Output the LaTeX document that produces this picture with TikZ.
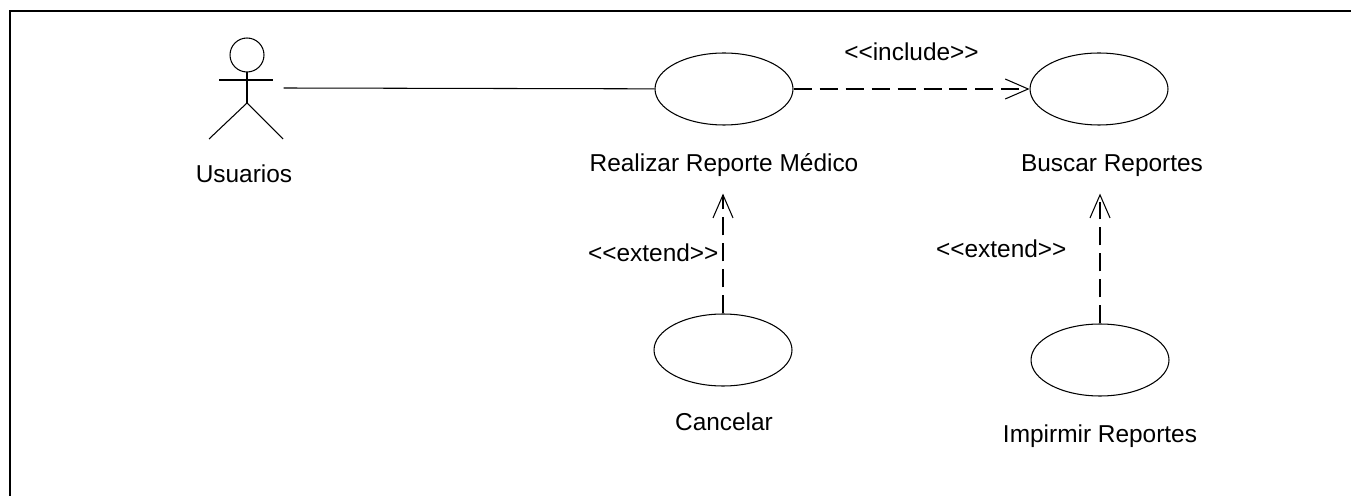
\documentclass[tikz,border=0pt]{standalone}
\usepackage{fontspec}
\setmainfont{Liberation Sans}[Ligatures=TeXOff]
\usetikzlibrary{arrows.meta, positioning, shapes.geometric}

\begin{document}
\begin{tikzpicture}[x=0.02cm, y=-0.02cm, line width=0.6pt,
    usecase/.style={ellipse, draw, minimum width=2.76cm, minimum height=1.44cm, inner sep=0pt},
    lbl/.style={inner sep=0pt, anchor=base, font=\fontsize{13.9}{16}\selectfont},
    stereo/.style={inner sep=0pt, font=\fontsize{13.9}{16}\selectfont},
    dep/.style={dash pattern=on 0.36cm off 0.16cm, -{Straight Barb[length=0.46cm, width=0.4cm]}}]
    \useasboundingbox (0,0) rectangle (1351,496);
    \draw[line width=1.1pt] (10,520) -- (10,11) -- (1370,11);

    % actor
    \node (usr) [minimum width=1.48cm, minimum height=2.04cm, inner sep=0pt] at (246,88) {};
    \draw (247,55) circle (0.34cm);
    \draw (219,80) -- (273,80);
    \draw (247,72) -- (247,103);
    \draw (209,139) -- (247,103) -- (283,139);
    \node[lbl] (usrlbl) at (244,183) {Usuarios};

    % use cases
    \node[usecase] (rep) at (724,89) {};
    \node[usecase] (bus) at (1099,89) {};
    \node[usecase] (can) at (723,350) {};
    \node[usecase] (imp) at (1100,360) {};
    \node[lbl] (replbl) at (724,172) {Realizar Reporte Médico};
    \node[lbl] (buslbl) at (1112,172) {Buscar Reportes};
    \node[lbl] (canlbl) at (724,430) {Cancelar};
    \node[lbl] (implbl) at (1100,442) {Impirmir Reportes};

    \draw (usr.east) -- (rep);
    \draw[dep] (rep) -- node[stereo, above=0.56cm] (inc) {<<include>>} (bus);
    \draw[dep, shorten >=0.32cm] (can) -- node[stereo, pos=0.45, left=0.08cm] (extcan) {<<extend>>} (can |- replbl.south);
    \draw[dep, shorten >=0.32cm] (imp) -- node[stereo, pos=0.51, left=0.66cm] (extimp) {<<extend>>} (imp |- buslbl.south);
\end{tikzpicture}
\end{document}
